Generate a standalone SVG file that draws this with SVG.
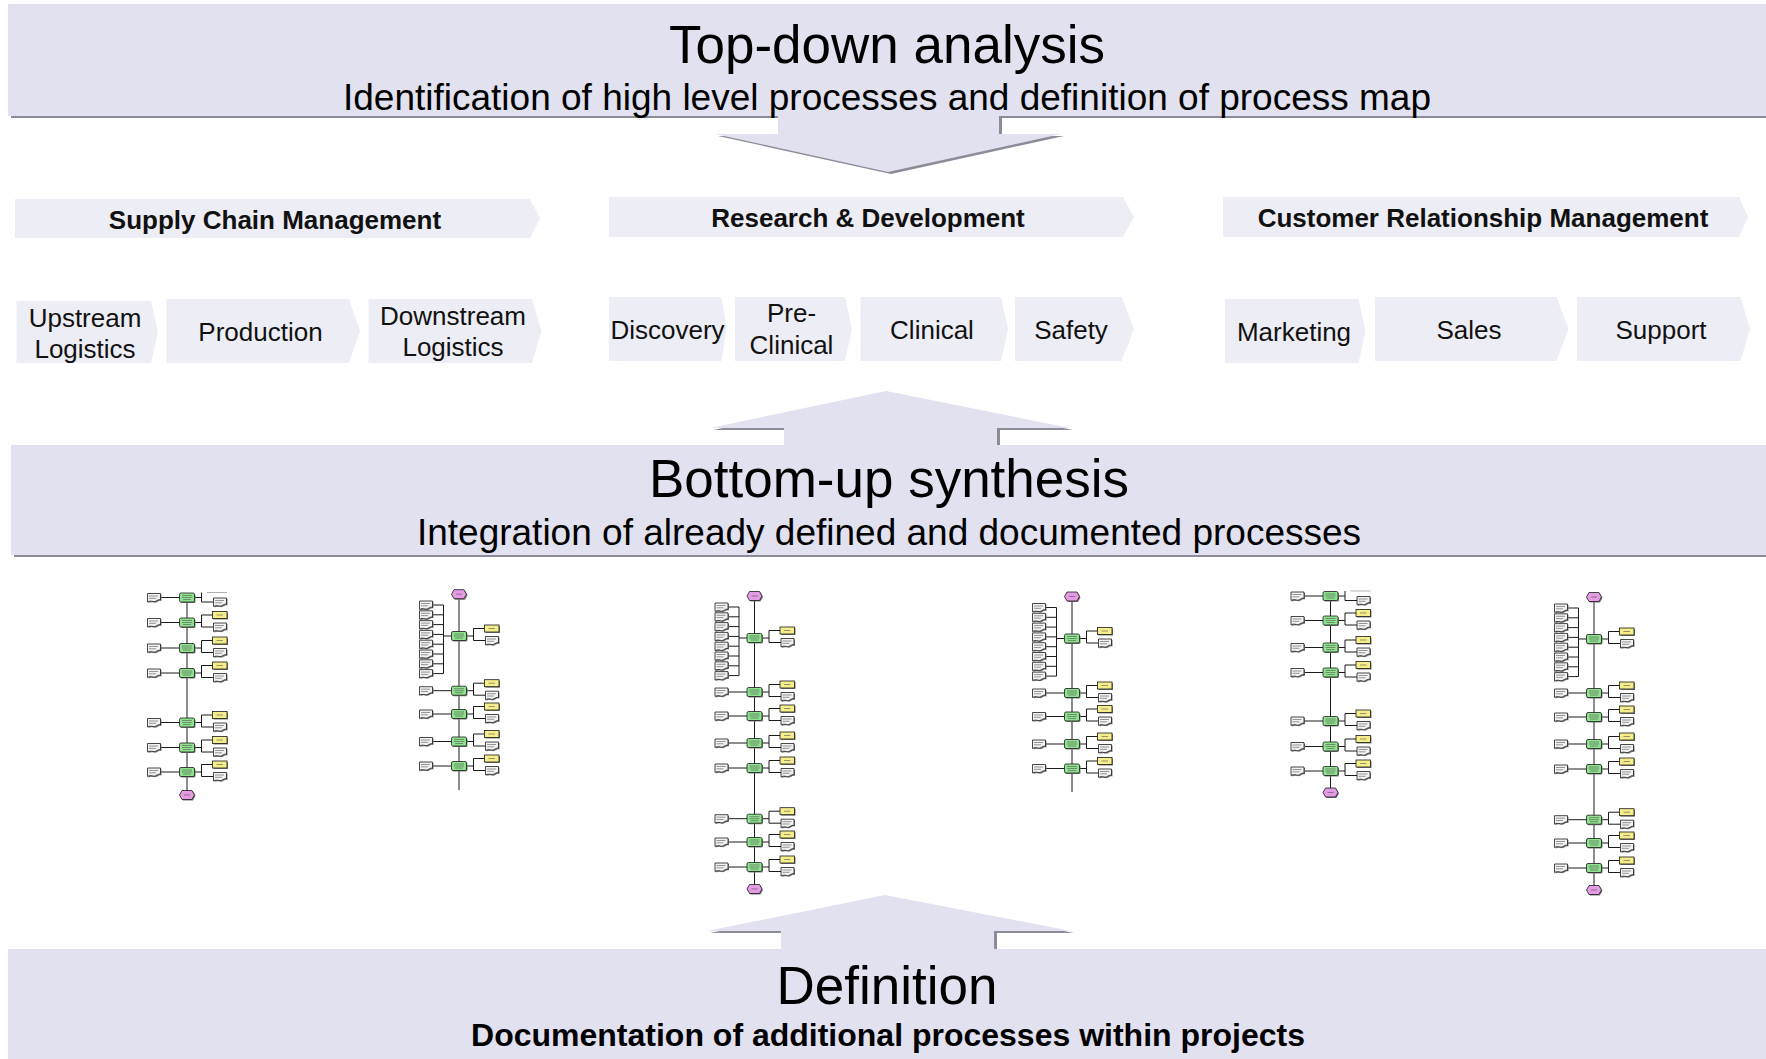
<svg xmlns="http://www.w3.org/2000/svg" xmlns:xlink="http://www.w3.org/1999/xlink" width="1766" height="1059" viewBox="0 0 1766 1059">
<style>
.bn{fill:#E1E1EF}
.sh{fill:#8C8C98}
.ch{fill:#EDEDF5}
.t{font-family:"Liberation Sans",Arial,Helvetica,sans-serif;fill:#000;text-anchor:middle}
.h{font-size:53px}
.s{font-size:37px}
.b{font-weight:bold;font-size:26px;fill:#111}
.p{font-size:26px;fill:#111}
.ln{stroke:#1a1a1a;stroke-width:1;fill:none}
.gr{fill:#8EE38E;stroke:#1a1a1a;stroke-width:0.8}
.ye{fill:#F6EE8A;stroke:#1a1a1a;stroke-width:0.8}
.dc{fill:#F2F2F2;stroke:#1a1a1a;stroke-width:0.8}
.pk{fill:#E49BE4;stroke:#1a1a1a;stroke-width:0.8}
.bs{fill:#7a7a7a}
.tx{stroke:#555;stroke-width:0.6;fill:none}
</style>
<defs>
<g id="doc">
<path class="bs" d="M-5.5,-3 H7.5 V3.5 C5,2 3,6 0,5 C-2,4.5 -4,4.5 -5.5,5.5 Z"/>
<path class="dc" d="M-6.5,-4 H6.5 V2.5 C4,1 2,5 -1,4 C-3,3.5 -5,3.5 -6.5,4.5 Z"/>
<path class="tx" d="M-5,-1.5 H4 M-5,0.8 H2"/>
</g>
<g id="gb">
<rect x="-6.5" y="-3.5" width="15" height="9" rx="1.5" class="bs"/>
<rect x="-7.5" y="-4.5" width="15" height="9" rx="1.5" class="gr"/>
<path class="tx" d="M-5,-2 H5 M-5,0 H5 M-4,2 H4"/>
</g>
<g id="yb">
<rect x="1" y="1" width="14.5" height="7" class="bs"/>
<rect x="0" y="0" width="14.5" height="7" class="ye"/>
<path class="tx" d="M4,3.5 H10.5"/>
</g>
<g id="pkh">
<path class="bs" d="M-4,-3.5 H6 L8.5,1 L6,5.5 H-4 L-6.5,1 Z"/>
<path class="pk" d="M-5,-4.5 H5 L7.5,0 L5,4.5 H-5 L-7.5,0 Z"/>
<path class="tx" d="M-3,0 H3"/>
</g>
<g id="row">
<path class="ln" d="M-26,0 H-7.5 M7.5,0 H14.5 M14.5,-7.5 V4.5 M14.5,-7.5 H25.5 M14.5,4.5 H26.5"/>
<use href="#doc" x="-33" y="0"/>
<use href="#gb"/>
<use href="#yb" x="25.5" y="-11"/>
<use href="#doc" x="33" y="4.5"/>
</g>
<g id="rowt">
<path class="ln" d="M-26,0 H-7.5 M7.5,0 H14.5 M14.5,-5 V4.5 M14.5,4.5 H26.5"/>
<path d="M20,-5 H40" stroke="#b0b0b0" stroke-width="1"/>
<use href="#doc" x="-33" y="0"/>
<use href="#gb"/>
<use href="#doc" x="33" y="4.5"/>
</g>
<g id="mrow">
<path class="ln" d="M-15.5,-31 V37.6 M-15.5,0 H-7.5 M-26,-31 H-15.5 M-26,-21.2 H-15.5 M-26,-11.4 H-15.5 M-26,-1.6 H-15.5 M-26,8.2 H-15.5 M-26,18 H-15.5 M-26,27.8 H-15.5 M-26,37.6 H-15.5 M7.5,0 H14.5 M14.5,-7.5 V4.5 M14.5,-7.5 H25.5 M14.5,4.5 H26.5"/>
<use href="#doc" x="-33" y="-31"/>
<use href="#doc" x="-33" y="-21.2"/>
<use href="#doc" x="-33" y="-11.4"/>
<use href="#doc" x="-33" y="-1.6"/>
<use href="#doc" x="-33" y="8.2"/>
<use href="#doc" x="-33" y="18"/>
<use href="#doc" x="-33" y="27.8"/>
<use href="#doc" x="-33" y="37.6"/>
<use href="#gb"/>
<use href="#yb" x="25.5" y="-11"/>
<use href="#doc" x="33" y="4.5"/>
</g>
</defs>

<rect x="0" y="0" width="1766" height="1059" fill="#ffffff"/>

<g id="connectors">
<path class="ln" d="M187,593 V791"/>
<path class="ln" d="M459,594 V790"/>
<path class="ln" d="M754.5,596 V885"/>
<path class="ln" d="M1072,596.5 V792"/>
<path class="ln" d="M1330.5,591.5 V788"/>
<path class="ln" d="M1594,597 V886"/>
</g>

<g id="top-down">
<path class="sh" transform="translate(3,2)" d="M8,4 H1766 V116 H999 V134 H1061 L888,172 L715,134 H778 V116 H8 Z"/>
<path class="bn" d="M8,4 H1766 V116 H999 V134 H1061 L888,172 L715,134 H778 V116 H8 Z"/>
<text class="t h" x="887" y="63">Top-down analysis</text>
<text class="t s" x="887" y="110">Identification of high level processes and definition of process map</text>
</g>

<g id="scm">
<path class="ch" d="M15,199 H530 L540,218.5 L530,238 H15 Z"/>
<text class="t b" x="275" y="229">Supply Chain Management</text>
</g>
<g id="rnd">
<path class="ch" d="M609,197 H1123 L1134,217 L1123,237 H609 Z"/>
<text class="t b" x="868" y="227">Research &amp; Development</text>
</g>
<g id="crm">
<path class="ch" d="M1223,197 H1739 L1748,217 L1739,237 H1223 Z"/>
<text class="t b" x="1483" y="227">Customer Relationship Management</text>
</g>

<g id="upstream">
<path class="ch" d="M16.5,301 H151 L158,332 L151,363 H16.5 Z"/>
<text class="t p" x="85" y="327">Upstream</text>
<text class="t p" x="85" y="358">Logistics</text>
</g>
<g id="production">
<path class="ch" d="M166.5,299 H349 L360,331 L349,363 H166.5 Z"/>
<text class="t p" x="260.5" y="341">Production</text>
</g>
<g id="downstream">
<path class="ch" d="M368.5,299 H532 L541.5,331 L532,363 H368.5 Z"/>
<text class="t p" x="453" y="325">Downstream</text>
<text class="t p" x="453" y="356">Logistics</text>
</g>
<g id="discovery">
<path class="ch" d="M609,297 H721.5 L726.5,329 L721.5,361 H609 Z"/>
<text class="t p" x="667.5" y="338.5">Discovery</text>
</g>
<g id="preclinical">
<path class="ch" d="M735,297 H845 L852,329 L845,361 H735 Z"/>
<text class="t p" x="791.5" y="322">Pre-</text>
<text class="t p" x="791.5" y="354">Clinical</text>
</g>
<g id="clinical">
<path class="ch" d="M860.5,297 H1001 L1008,329 L1001,361 H860.5 Z"/>
<text class="t p" x="932" y="338.5">Clinical</text>
</g>
<g id="safety">
<path class="ch" d="M1015,297 H1121.5 L1134,329 L1121.5,361 H1015 Z"/>
<text class="t p" x="1071" y="338.5">Safety</text>
</g>
<g id="marketing">
<path class="ch" d="M1225,299 H1358.5 L1365.5,331 L1358.5,363 H1225 Z"/>
<text class="t p" x="1294" y="340.5">Marketing</text>
</g>
<g id="sales">
<path class="ch" d="M1375,297 H1556.5 L1568.5,329 L1556.5,361 H1375 Z"/>
<text class="t p" x="1469" y="338.5">Sales</text>
</g>
<g id="support">
<path class="ch" d="M1577,297 H1740.5 L1750,329 L1740.5,361 H1577 Z"/>
<text class="t p" x="1661" y="338.5">Support</text>
</g>

<g id="bottom-up">
<path class="sh" transform="translate(3,2)" d="M11,445 H784 V428 H710 L886,391 L1070,428 H997 V445 H1766 V555 H11 Z"/>
<path class="bn" d="M11,445 H784 V428 H710 L886,391 L1070,428 H997 V445 H1766 V555 H11 Z"/>
<text class="t h" x="889" y="497">Bottom-up synthesis</text>
<text class="t s" x="889" y="545">Integration of already defined and documented processes</text>
</g>

<g id="map1">
<use href="#rowt" x="187" y="597.5"/>
<use href="#row" x="187" y="622.5"/>
<use href="#row" x="187" y="648"/>
<use href="#row" x="187" y="673"/>
<use href="#row" x="187" y="722.5"/>
<use href="#row" x="187" y="747.5"/>
<use href="#row" x="187" y="772"/>
<use href="#pkh" x="187" y="795"/>
</g>
<g id="map2">
<use href="#pkh" x="459" y="594.2"/>
<use href="#mrow" x="459" y="636"/>
<use href="#row" x="459" y="690.7"/>
<use href="#row" x="459" y="714"/>
<use href="#row" x="459" y="741.5"/>
<use href="#row" x="459" y="766"/>
</g>
<g id="map3">
<use href="#pkh" x="754.5" y="596"/>
<use href="#mrow" x="754.5" y="638"/>
<use href="#row" x="754.5" y="692"/>
<use href="#row" x="754.5" y="716"/>
<use href="#row" x="754.5" y="743"/>
<use href="#row" x="754.5" y="768"/>
<use href="#row" x="754.5" y="818.7"/>
<use href="#row" x="754.5" y="842"/>
<use href="#row" x="754.5" y="867"/>
<use href="#pkh" x="754.5" y="889"/>
</g>
<g id="map4">
<use href="#pkh" x="1072" y="596.5"/>
<use href="#mrow" x="1072" y="638.5"/>
<use href="#row" x="1072" y="693"/>
<use href="#row" x="1072" y="716.5"/>
<use href="#row" x="1072" y="744"/>
<use href="#row" x="1072" y="768.5"/>
</g>
<g id="map5">
<use href="#rowt" x="1330.5" y="596"/>
<use href="#row" x="1330.5" y="620.5"/>
<use href="#row" x="1330.5" y="647.5"/>
<use href="#row" x="1330.5" y="672.5"/>
<use href="#row" x="1330.5" y="721"/>
<use href="#row" x="1330.5" y="746.5"/>
<use href="#row" x="1330.5" y="771"/>
<use href="#pkh" x="1330.5" y="792.5"/>
</g>
<g id="map6">
<use href="#pkh" x="1594" y="597"/>
<use href="#mrow" x="1594" y="639"/>
<use href="#row" x="1594" y="693"/>
<use href="#row" x="1594" y="717"/>
<use href="#row" x="1594" y="744"/>
<use href="#row" x="1594" y="769"/>
<use href="#row" x="1594" y="819.7"/>
<use href="#row" x="1594" y="843"/>
<use href="#row" x="1594" y="868"/>
<use href="#pkh" x="1594" y="890"/>
</g>

<g id="definition">
<path class="sh" transform="translate(3,2)" d="M8,949 H781 V931 H707 L885,895 L1071,931 H994 V949 H1766 V1070 H8 Z"/>
<path class="bn" d="M8,949 H781 V931 H707 L885,895 L1071,931 H994 V949 H1766 V1070 H8 Z"/>
<text class="t h" x="887" y="1004">Definition</text>
<text class="t b" style="font-size:32px;fill:#000" x="888" y="1046">Documentation of additional processes within projects</text>
</g>
</svg>
